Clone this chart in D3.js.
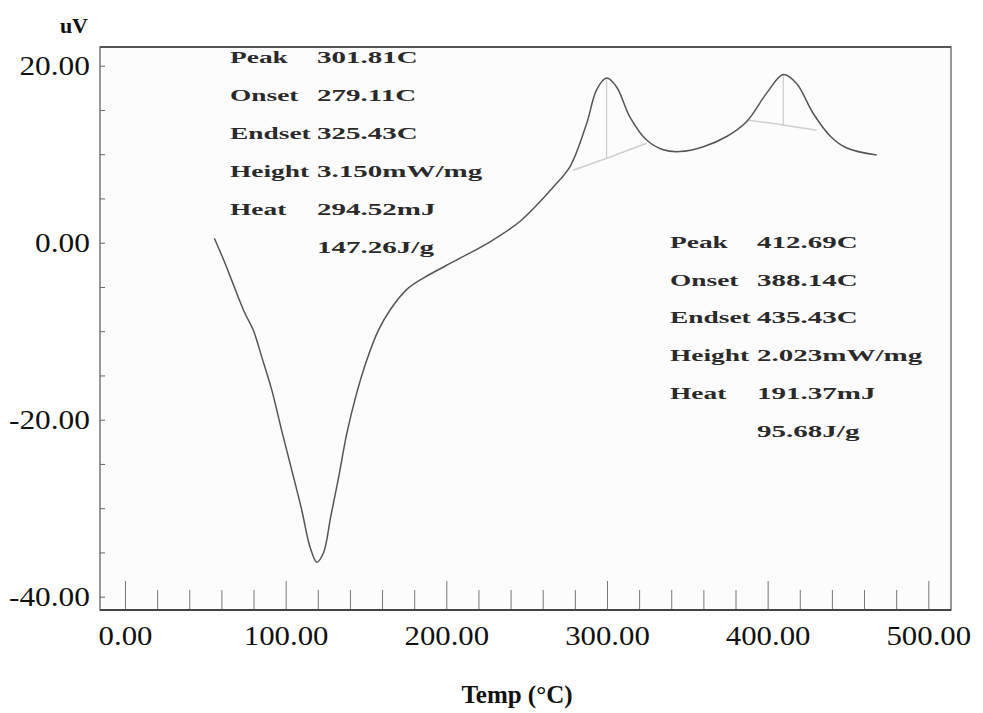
<!DOCTYPE html>
<html>
<head>
<meta charset="utf-8">
<script src="https://cdn.jsdelivr.net/npm/d3@7"></script>
<style>
	body { margin: 0; background: #fff; }
	svg { display: block; }
</style>
</head>
<body>
<svg id="chart" width="983" height="713"></svg>
<script>
// DSC trace
const tempC = [55.6, 62.2, 69.5, 74.7, 79.9, 85.1, 91.3, 97.5, 103.8, 110.0, 115.2, 119.4, 123.6, 128.0, 133.0, 138.0, 144.2, 150.4, 157.7, 165.0, 175.3, 185.7, 206.5, 227.2, 245.8, 256.0, 266.6, 277.0, 287.4, 293.6, 299.8, 306.0, 314.3, 324.7, 335.0, 345.4, 360.0, 374.5, 387.0, 399.4, 409.7, 418.0, 428.4, 439.2, 449.2, 467.9];
const signal = [0.5, -2.3, -5.7, -8.0, -9.9, -12.9, -16.6, -21.2, -25.7, -30.2, -34.4, -36.1, -35.0, -31.0, -26.5, -21.6, -17.0, -13.3, -9.9, -7.6, -5.3, -4.0, -1.95, 0.1, 2.4, 4.2, 6.3, 8.6, 13.5, 17.3, 18.6, 17.6, 14.2, 11.6, 10.5, 10.3, 10.85, 12.0, 13.7, 16.9, 19.0, 18.0, 14.6, 12.0, 10.7, 9.9];

// integration baselines (onset -> peak -> endset)
const base1Temp = [279.0, 299.8, 324.7];
const base1Val = [8.2, 9.54, 11.23];
const base2Temp = [387.0, 409.7, 430.5];
const base2Val = [13.86, 13.3, 12.7];

// peak drop lines
const peakTemp = [299.8, 409.7];
const peakTop = [18.6, 19.0];
const peakBase = [9.54, 13.3];

// annotation texts
const peak1Labels = ["Peak", "Onset", "Endset", "Height", "Heat", ""];
const peak1Values = ["301.81C", "279.11C", "325.43C", "3.150mW/mg", "294.52mJ", "147.26J/g"];
const peak2Labels = ["Peak", "Onset", "Endset", "Height", "Heat", ""];
const peak2Values = ["412.69C", "388.14C", "435.43C", "2.023mW/mg", "191.37mJ", "95.68J/g"];

const xTicks = d3.range(0, 501, 20);
const yTicks = d3.range(-40, 21, 5);

const frame = { left: 100, top: 47, right: 951, bottom: 610 };
const serif = "'Liberation Serif', 'Times New Roman', serif";

const svg = d3.select("#chart");

const x = d3.scaleLinear().domain([0, 500]).range([125, 928.3]);
const y = d3.scaleLinear().domain([20, -40]).range([65.7, 596.7]);

// plot frame
svg.append("rect")
	.attr("x", frame.left)
	.attr("y", frame.top)
	.attr("width", frame.right - frame.left)
	.attr("height", frame.bottom - frame.top)
	.attr("fill", "#fcfcfc")
	.attr("stroke", "#777")
	.attr("stroke-width", 1.5);

// x axis, ticks pointing inward
const gx = svg.append("g")
	.attr("transform", `translate(0,${frame.bottom})`)
	.call(
		d3.axisBottom(x)
			.tickValues(xTicks)
			.tickSize(-20)
			.tickFormat((d) => (d % 100 === 0 ? d.toFixed(2) : ""))
	);
gx.select(".domain").remove();
gx.selectAll(".tick line")
	.attr("stroke", "#777")
	.attr("y2", (d) => (d % 100 === 0 ? -29 : -20));
gx.selectAll(".tick text")
	.attr("y", 15)
	.attr("font-family", serif)
	.attr("font-size", 28)
	.attr("fill", "#111")
	.attr("transform", "scale(1.1,1)");

// y axis
const gy = svg.append("g")
	.attr("transform", `translate(${frame.left},0)`)
	.call(
		d3.axisLeft(y)
			.tickValues(yTicks)
			.tickSize(-5)
			.tickFormat((d) => (d % 20 === 0 ? d.toFixed(2) : ""))
	);
gy.select(".domain").remove();
gy.selectAll(".tick line").attr("stroke", "#666");
gy.selectAll(".tick text")
	.attr("x", -9)
	.attr("font-family", serif)
	.attr("font-size", 28)
	.attr("fill", "#111")
	.attr("transform", "scale(1.12,1)");

// heavier top and bottom frame edges
svg.append("line")
	.attr("x1", frame.left).attr("x2", frame.right)
	.attr("y1", frame.top).attr("y2", frame.top)
	.attr("stroke", "#555").attr("stroke-width", 2);
svg.append("line")
	.attr("x1", frame.left).attr("x2", frame.right)
	.attr("y1", frame.bottom).attr("y2", frame.bottom)
	.attr("stroke", "#444").attr("stroke-width", 2);

// baselines
const baseLine = d3.line()
	.x((d) => x(d[0]))
	.y((d) => y(d[1]))
	.curve(d3.curveMonotoneX);

[
	d3.zip(base1Temp, base1Val),
	d3.zip(base2Temp, base2Val),
].forEach((pts) => {
	svg.append("path")
		.attr("d", baseLine(pts))
		.attr("fill", "none")
		.attr("stroke", "#cfcfcf")
		.attr("stroke-width", 1.6);
});

svg.selectAll(".drop")
	.data(d3.zip(peakTemp, peakTop, peakBase))
	.join("line")
	.attr("class", "drop")
	.attr("x1", (d) => x(d[0]))
	.attr("x2", (d) => x(d[0]))
	.attr("y1", (d) => y(d[1]))
	.attr("y2", (d) => y(d[2]))
	.attr("stroke", "#c4c4c4")
	.attr("stroke-width", 1);

// the trace
const line = d3.line()
	.x((d) => x(d[0]))
	.y((d) => y(d[1]))
	.curve(d3.curveCatmullRom.alpha(0.5));

svg.append("path")
	.attr("d", line(d3.zip(tempC, signal)))
	.attr("fill", "none")
	.attr("stroke", "#555")
	.attr("stroke-width", 1.5);

// annotation blocks
function drawNotes(labels, values, left, valueLeft, top, step) {
	const g = svg.append("g");
	labels.forEach((lab, i) => {
		const yy = top + i * step;
		[[lab, left, 1.66], [values[i], valueLeft, 1.76]].forEach(([t, xx, sx]) => {
			if (!t) return;
			g.append("text")
				.attr("transform", `translate(${xx},${yy}) scale(${sx},1)`)
				.attr("font-family", serif)
				.attr("font-size", 16.5)
				.attr("font-weight", "bold")
				.attr("fill", "#2a2a2a")
				.text(t);
		});
	});
}
drawNotes(peak1Labels, peak1Values, 230, 317, 63, 38);
drawNotes(peak2Labels, peak2Values, 670, 757, 248, 37.7);

// axis titles
svg.append("text")
	.attr("x", 88)
	.attr("y", 33)
	.attr("text-anchor", "end")
	.attr("font-family", serif)
	.attr("font-size", 22)
	.attr("font-weight", "bold")
	.attr("fill", "#111")
	.text("uV");

svg.append("text")
	.attr("x", 517)
	.attr("y", 703)
	.attr("text-anchor", "middle")
	.attr("font-family", serif)
	.attr("font-size", 25)
	.attr("font-weight", "bold")
	.attr("fill", "#111")
	.text("Temp (°C)");
</script>
</body>
</html>
